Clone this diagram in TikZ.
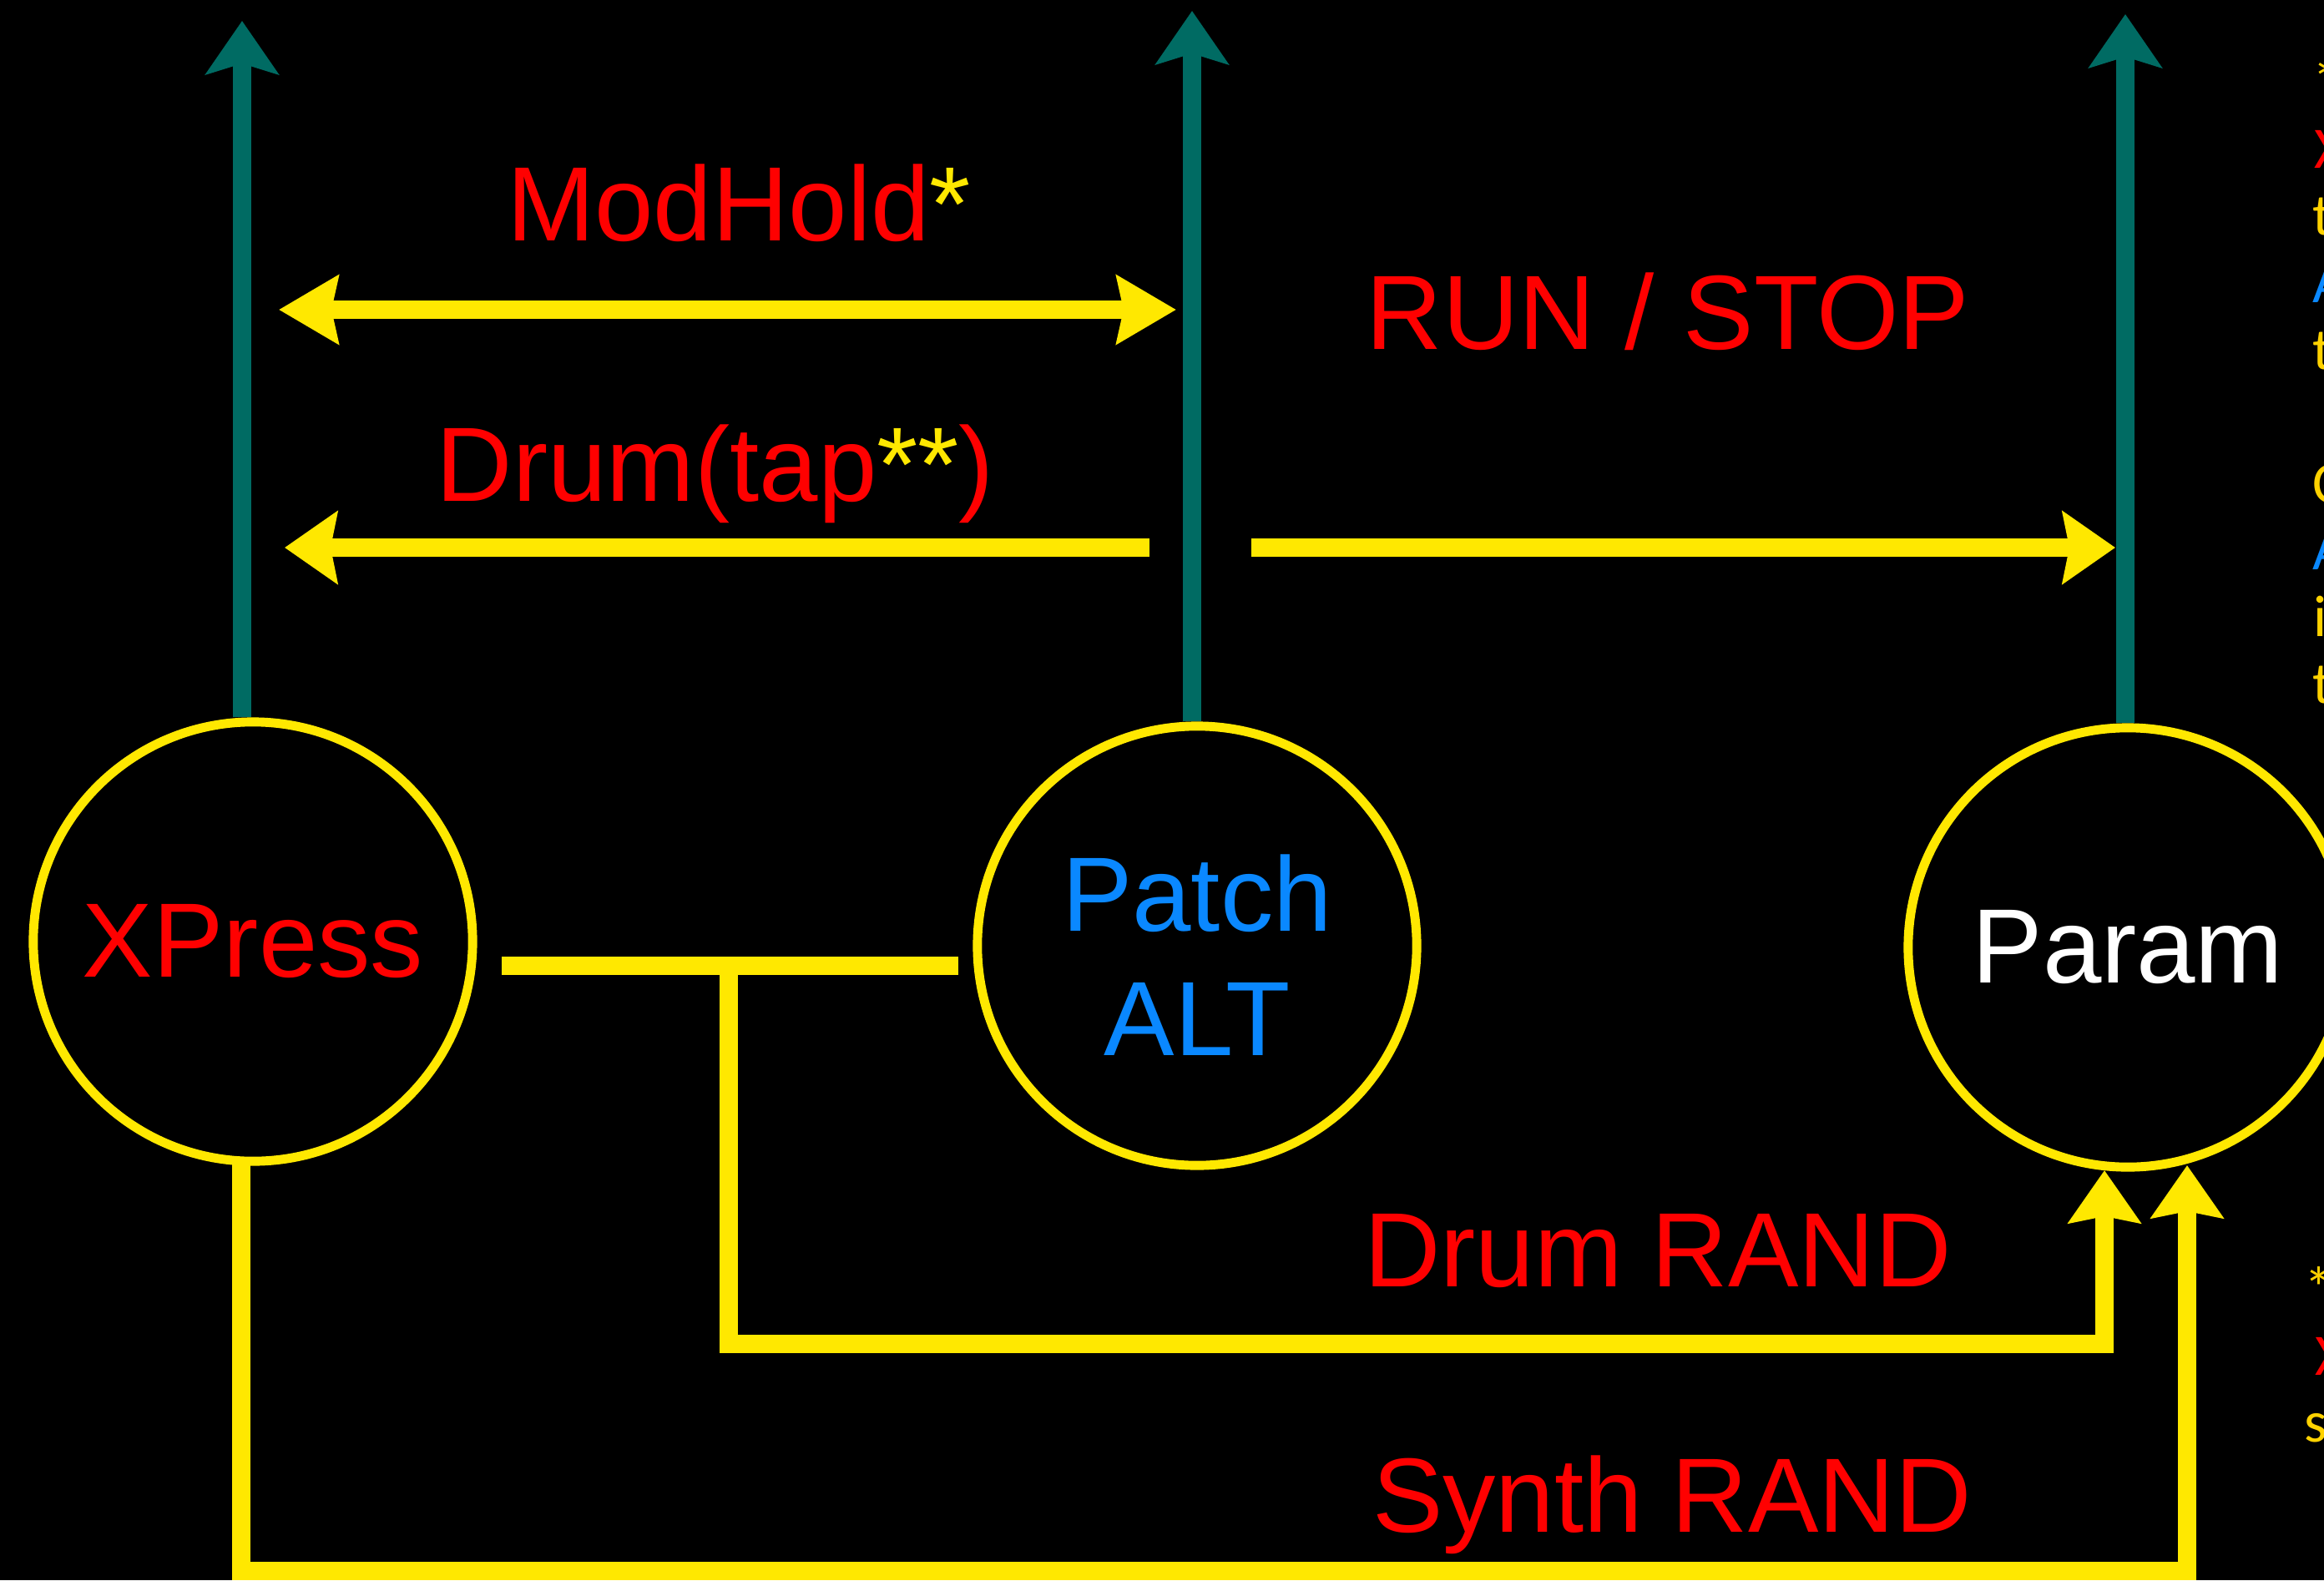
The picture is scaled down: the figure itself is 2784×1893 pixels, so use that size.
\documentclass[tikz,border=0pt]{standalone}
\usepackage{fontspec}
\setmainfont{Liberation Sans}
\newfontfamily\notefont{Carlito}
\usetikzlibrary{arrows.meta,positioning,calc}
\definecolor{Lamp}{HTML}{FFE800}
\definecolor{Gold}{HTML}{FFD200}
\definecolor{Teal}{HTML}{006B63}
\definecolor{Sky}{HTML}{0A88FF}
\definecolor{Hot}{HTML}{FF0000}
\tikzset{
  mode/.style={circle, draw=Lamp, line width=3.1pt, minimum size=5.26cm, inner sep=0pt, align=center, font=\fontsize{36}{42.3}\selectfont},
  exit/.style={draw=Teal, line width=6.2pt, -{Stealth[length=0.64cm, width=0.87cm, inset=0.13cm]}},
  flow/.style={draw=Lamp, line width=6.2pt},
  tip/.style={-{Stealth[length=0.63cm, width=0.86cm, inset=0.08cm]}},
  lbl/.style={anchor=base, inner sep=0pt, text=Hot, font=\fontsize{36}{43}\selectfont},
  note/.style={anchor=base west, inner sep=0pt, font=\notefont\fontsize{20}{24}\selectfont},
}

\begin{document}
\begin{tikzpicture}[x=0.01cm, y=-0.01cm]
\useasboundingbox (0,0) rectangle (2784,1893);
\fill[black] (0,0) rectangle (2784,1893);
\clip (0,0) rectangle (2784,1893);

% modes
\node[mode, text=Hot] (xpress) at (303,1128) {XPress};
\node[mode, text=Sky] (patch) at (1434,1133) {\rule{0pt}{32.5pt}Patch\\ALT};
\node[mode, text=white] (param) at (2549,1135) {Param};

% exits upwards
\coordinate (upX) at (290,25);
\coordinate (upP) at (1428,13);
\coordinate (upQ) at (2546,17);
\draw[exit] (xpress.north -| upX) -- (upX);
\draw[exit] (patch.north -| upP) -- (upP);
\draw[exit] (param.north -| upQ) -- (upQ);

% ModHold and Drum(tap)
\coordinate (holdL) at (334,371);
\coordinate (holdR) at (1409,371);
\draw[flow, {Stealth[length=0.71cm, width=0.81cm, inset=0.08cm]}-{Stealth[length=0.71cm, width=0.81cm, inset=0.08cm]}] (holdL) -- (holdR);
\coordinate (tapL) at (341,656);
\coordinate (tapA) at (1377,656);
\coordinate (tapB) at (1499,656);
\coordinate (tapR) at (2534,656);
\draw[flow, tip] (tapA) -- (tapL);
\draw[flow, tip] (tapB) -- (tapR);

% RAND links
\coordinate (xOut) at (601,1157);
\coordinate (tee) at (873,1157);
\coordinate (pIn) at (1148,1157);
\draw[flow] (xOut) -- (pIn);
\coordinate (randD) at (2521,1402);
\draw[flow, tip] (tee) -- ++(0,453) -| (randD);
\coordinate (xDown) at (289,1394);
\coordinate (randS) at (2620,1396);
\draw[flow, tip] (xDown) -- ++(0,488) -| (randS);

% labels
\node[lbl] (modhold) at (885,288) {ModHold\textcolor{Lamp}{*}};
\node[lbl] (drumtap) at (857,600) {Drum(tap\textcolor{Lamp}{**})};
\node[lbl] (runstop) at (1998,418) {RUN / STOP};
\node[lbl] (drumrand) at (1986,1541) {Drum RAND};
\node[lbl] (synthrand) at (2003,1835) {Synth RAND};

% notes cut by the right edge
\foreach \ch/\col/\xb/\yb [count=\i] in {*/Gold/2770/121, X/Hot/2772/201, t/Gold/2770/281, A/Sky/2770/362, t/Gold/2770/442, C/Gold/2770/602, A/Sky/2770/682, i/Gold/2771/762, t/Gold/2770/842, */Gold/2760/1567, X/Hot/2773/1647, s/Gold/2760/1727}
  \node[note, text=\col] (note\i) at (\xb,\yb) {\ch};
\end{tikzpicture}
\end{document}
